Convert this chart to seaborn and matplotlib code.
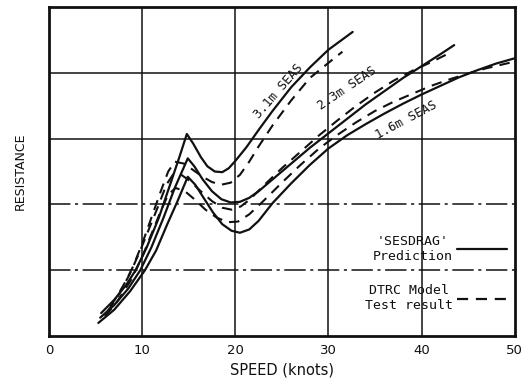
import numpy as np
import pandas as pd
import matplotlib
matplotlib.use('Agg')
import matplotlib.pyplot as plt
import seaborn as sns

# 'SESDRAG' prediction (solid) - speed in knots, resistance (unscaled)
speed_pred_31 = [5.6, 7.0, 8.3, 9.3, 10.5, 11.8, 13.0, 14.0, 14.8, 15.5, 16.3, 17.0, 17.8, 18.6, 19.3,
                 20.0, 21.2, 22.6, 24.0, 26.0, 28.0, 30.0, 32.6]
res_pred_31 = [0.35, 0.55, 0.78, 1.0, 1.35, 1.8, 2.3, 2.72, 3.07, 2.92, 2.72, 2.58, 2.5, 2.49, 2.55,
               2.66, 2.87, 3.15, 3.42, 3.78, 4.08, 4.35, 4.62]

speed_pred_23 = [5.5, 7.0, 8.5, 9.8, 11.0, 12.3, 13.5, 14.9, 15.6, 16.5, 17.5, 18.5, 19.5, 20.5, 21.5,
                 22.5, 24.0, 26.0, 28.0, 30.0, 32.0, 34.0, 36.0, 38.0, 40.0, 42.0, 43.5]
res_pred_23 = [0.28, 0.47, 0.72, 1.0, 1.35, 1.8, 2.25, 2.7, 2.58, 2.38, 2.2, 2.08, 2.03, 2.04, 2.1,
               2.2, 2.38, 2.62, 2.86, 3.08, 3.3, 3.52, 3.72, 3.92, 4.1, 4.28, 4.42]

speed_pred_16 = [5.3, 7.0, 8.7, 10.3, 11.5, 12.7, 13.8, 14.9, 15.7, 16.6, 17.6, 18.6, 19.6, 20.5, 21.5,
                 22.5, 24.0, 26.0, 28.0, 30.0, 32.0, 34.0, 36.0, 38.0, 40.0, 42.0, 44.0, 46.0, 48.0, 50.0]
res_pred_16 = [0.2, 0.4, 0.68, 1.0, 1.3, 1.7, 2.05, 2.42, 2.3, 2.1, 1.88, 1.7, 1.6, 1.57, 1.62,
               1.75, 2.02, 2.32, 2.6, 2.85, 3.05, 3.22, 3.38, 3.53, 3.67, 3.8, 3.93, 4.04, 4.14, 4.22]

# DTRC model test result (dashed)
speed_test_31 = [6.6, 7.5, 8.3, 9.0, 10.0, 11.0, 12.0, 12.8, 13.5, 14.5, 15.5, 16.5, 17.5, 18.5, 19.5,
                 20.5, 21.5, 22.5, 24.0, 26.0, 28.0, 30.0, 31.5]
res_test_31 = [0.45, 0.65, 0.85, 1.05, 1.4, 1.8, 2.2, 2.5, 2.65, 2.62, 2.52, 2.42, 2.34, 2.3, 2.33,
               2.45, 2.65, 2.88, 3.2, 3.58, 3.92, 4.15, 4.32]

speed_test_23 = [6.3, 7.3, 8.7, 9.8, 10.8, 11.8, 12.6, 13.3, 14.2, 15.2, 16.3, 17.5, 18.6, 19.6, 20.6,
                 21.6, 23.0, 25.0, 27.0, 29.0, 31.0, 33.0, 35.0, 37.0, 39.0, 41.0, 43.0]
res_test_23 = [0.38, 0.58, 0.95, 1.3, 1.65, 2.0, 2.3, 2.45, 2.45, 2.35, 2.2, 2.05, 1.95, 1.92, 1.97,
               2.08, 2.28, 2.55, 2.8, 3.05, 3.28, 3.5, 3.7, 3.88, 4.03, 4.16, 4.3]

speed_test_16 = [6.0, 7.2, 8.8, 10.0, 11.0, 12.0, 12.8, 13.6, 14.6, 15.6, 16.8, 18.0, 19.2, 20.3, 21.5,
                 23.0, 25.0, 27.0, 29.0, 31.0, 33.0, 35.0, 37.0, 39.0, 41.0, 43.0, 45.0, 47.0, 50.0]
res_test_16 = [0.3, 0.5, 0.85, 1.2, 1.55, 1.9, 2.15, 2.25, 2.2, 2.08, 1.92, 1.8, 1.73, 1.74, 1.85,
               2.05, 2.33, 2.6, 2.85, 3.06, 3.25, 3.42, 3.56, 3.68, 3.8, 3.9, 3.99, 4.07, 4.17]

x_ticks = [0, 10, 20, 30, 40, 50]
sea_labels = ['3.1m SEAS', '2.3m SEAS', '1.6m SEAS']

sns.set_style('white')
plt.rcParams['font.family'] = ['DejaVu Sans']

fig = plt.figure(figsize=(5.21, 3.85), dpi=100)
ax = fig.add_axes([0.094, 0.127, 0.894, 0.855])

ink = '#111111'
# grid
for gx in x_ticks[1:-1]:
    ax.axvline(gx, color=ink, lw=1.1, zorder=1)
for gy in [3, 4]:
    ax.axhline(gy, color=ink, lw=1.1, zorder=1)
for gy in [1, 2]:
    ax.axhline(gy, color=ink, lw=1.1, dashes=(14, 3, 2, 3), zorder=1)

pred = [(speed_pred_31, res_pred_31), (speed_pred_23, res_pred_23), (speed_pred_16, res_pred_16)]
test = [(speed_test_31, res_test_31), (speed_test_23, res_test_23), (speed_test_16, res_test_16)]

for i, (sx, ry) in enumerate(pred):
    sns.lineplot(x=sx, y=ry, ax=ax, color=ink, lw=1.6, sort=False,
                 label="'SESDRAG'\nPrediction" if i == 0 else None)
for i, (sx, ry) in enumerate(test):
    sns.lineplot(x=sx, y=ry, ax=ax, color=ink, lw=1.5, sort=False,
                 label='DTRC Model\nTest result' if i == 0 else None)
    ax.lines[-1].set_dashes((5, 3.5))

# sea state labels along the curves
mono = 'DejaVu Sans Mono'
ax.text(24.6, 3.72, sea_labels[0], rotation=49, ha='center', va='center', fontsize=9,
        family=mono, color=ink)
ax.text(32.0, 3.76, sea_labels[1], rotation=34, ha='center', va='center', fontsize=9,
        family=mono, color=ink)
ax.text(38.3, 3.28, sea_labels[2], rotation=28, ha='center', va='center', fontsize=9,
        family=mono, color=ink)

leg = ax.legend(loc='lower right', bbox_to_anchor=(0.983, 0.072), frameon=False, markerfirst=False,
                borderaxespad=0, borderpad=0, handlelength=3.8, labelspacing=1.65, handletextpad=0.3,
                prop={'family': mono, 'size': 9.5})
for t in leg.get_texts():
    t.set_multialignment('center')
    t.set_color(ink)
for h in leg.get_lines():
    h.set_linewidth(1.6)

ax.set_xlim(0, 50)
ax.set_ylim(0, 5)
ax.set_xticks(x_ticks)
ax.set_yticks([])
ax.tick_params(axis='x', length=0, pad=6, labelsize=9.5, colors=ink)
ax.set_xlabel('SPEED (knots)', fontsize=10.5, color=ink, labelpad=4)
ax.set_ylabel('RESISTANCE', fontsize=9, color=ink, labelpad=16)
for s in ax.spines.values():
    s.set_color(ink)
    s.set_linewidth(2)

fig.savefig('out.png', dpi=100)
